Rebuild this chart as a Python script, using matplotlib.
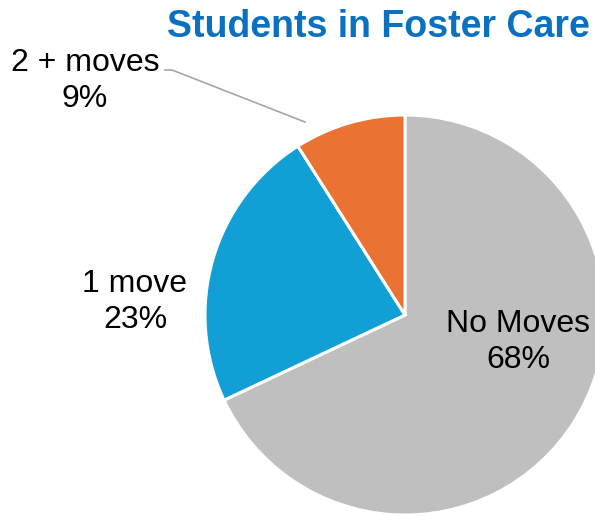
import matplotlib.pyplot as plt

categories = ['No Moves', '1 move', '2 + moves']
shares = [68, 23, 9]
colors = ['#BFBFBF', '#119FD6', '#EA7334']

plt.rcParams['font.family'] = ['Liberation Sans', 'DejaVu Sans']

fig = plt.figure(figsize=(5.95, 5.16), dpi=100)
W, H = 595, 516
cx, cy, r = 405, 315, 200
ax = fig.add_axes([(cx - r) / W, (H - cy - r) / H, 2 * r / W, 2 * r / H])

wedges, _ = ax.pie(shares, colors=colors, startangle=90, counterclock=False,
                   radius=1, wedgeprops=dict(edgecolor='white', linewidth=2.2))
for w in wedges:
    w.set_clip_on(False)
ax.set_xlim(-1, 1)
ax.set_ylim(-1, 1)
ax.set_aspect('equal')
ax.axis('off')

# label positions in pie units
lab_pos = [(0.565, -0.135), (-1.35, 0.065), (-1.6, 1.17)]
for name, v, (x, y) in zip(categories, shares, lab_pos):
    ax.text(x, y, f'{name}\n{v}%', ha='center', va='center', fontsize=23,
            linespacing=1.25, color='black', clip_on=False)

# leader line for the small slice
ax.plot([-1.2, -1.165, -0.5], [1.225, 1.225, 0.965], color='#A6A6A6',
        lw=1.2, clip_on=False)

fig.text(590 / W, 1 - 27 / H, 'Students in Foster Care', ha='right', va='center',
         fontsize=27, fontweight='bold', color='#0A70C0')

fig.savefig('out.png', dpi=100)
